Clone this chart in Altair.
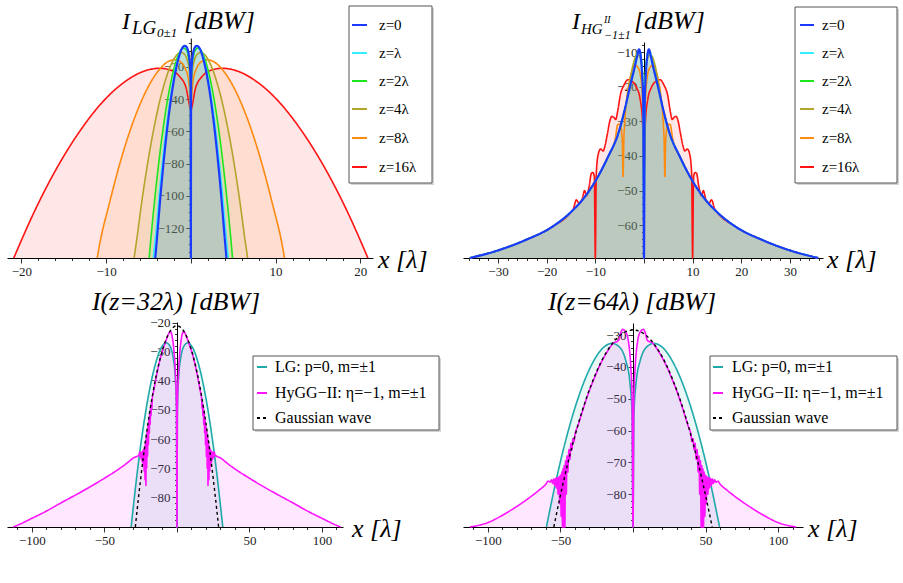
import altair as alt
import pandas as pd

FONT = "Liberation Serif"

# ---------------- Panel 1 : LG_{0,±1} profiles (x >= 0 half; profiles are even in x)
P1_SERIES = ["z=0", "z=λ", "z=2λ", "z=4λ", "z=8λ", "z=16λ"]
P1_COLORS = ["#1a3aff", "#33eeff", "#1ee61e", "#b3a42d", "#ff8a10", "#ff1414"]

lg_z0_x = [0, 0.03, 0.1, 0.25, 0.5, 0.71, 1.0, 1.5, 2.0, 2.5, 3.0, 3.5, 4.0, 4.2]
lg_z0_v = [-138.6, -29.9, -19.5, -12.0, -7.6, -6.8, -8.1, -15.5, -28.2, -45.8, -68.1, -95.0, -126.4, -138.6]
lg_z1_x = [0, 0.03, 0.105, 0.26, 0.52, 0.74, 1.05, 1.57, 2.1, 2.62, 3.15, 3.67, 4.2, 4.43]
lg_z1_v = [-138.6, -30.5, -19.9, -12.4, -8.0, -7.2, -8.5, -15.9, -28.6, -46.2, -68.5, -95.4, -126.8, -138.6]
lg_z2_x = [0, 0.036, 0.12, 0.3, 0.59, 0.84, 1.19, 1.78, 2.37, 2.97, 3.56, 4.15, 4.74, 4.92]
lg_z2_v = [-138.6, -31.4, -21.0, -13.5, -9.1, -8.3, -9.6, -17.0, -29.7, -47.3, -69.6, -96.5, -127.9, -138.6]
lg_z4_x = [0, 0.05, 0.16, 0.4, 0.81, 1.15, 1.62, 2.43, 3.24, 4.05, 4.86, 5.67, 6.48, 6.7]
lg_z4_v = [-110.0, -34.1, -23.7, -16.2, -11.8, -11.0, -12.3, -19.7, -32.4, -50.0, -72.3, -99.2, -130.6, -138.6]
lg_z8_x = [0, 0.08, 0.27, 0.68, 1.37, 1.93, 2.74, 4.1, 5.47, 6.84, 8.21, 9.57, 10.94, 11.05]
lg_z8_v = [-45.0, -38.6, -28.2, -20.7, -16.3, -15.5, -16.8, -24.2, -36.9, -54.5, -76.8, -103.7, -135.1, -138.6]
lg_z16_x = [0, 0.16, 0.53, 1.31, 2.63, 3.71, 5.25, 7.88, 10.5, 13.1, 15.75, 18.4, 20.9]
lg_z16_v = [-47.0, -43.9, -33.5, -26.0, -21.6, -20.8, -22.1, -29.5, -42.2, -59.8, -82.1, -109.0, -138.6]

# ---------------- Panel 2 : HyGG-II_{-1,±1} profiles (x >= 0 half)
hg_tail_x = [7.4, 9.5, 12.2, 15.0, 19.0, 24.5, 30.0, 35.8]
hg_tail_v = [-40.3, -46.1, -51.9, -56.2, -60.6, -64.4, -67.3, -69.5]
hg_z0_x = [0, 0.15, 0.4, 0.7, 1.0, 1.4, 1.9, 2.9, 4.0, 5.3] + hg_tail_x
hg_z0_v = [-69.5, -25.0, -16.0, -11.0, -9.2, -11.2, -14.3, -20.1, -26.9, -33.6] + hg_tail_v
hg_z1_x = [0, 0.15, 0.45, 0.8, 1.05, 1.5, 1.9, 2.9, 4.0, 5.3] + hg_tail_x
hg_z1_v = [-69.5, -24.0, -14.0, -10.0, -9.4, -11.5, -14.3, -20.1, -26.9, -33.6] + hg_tail_v
hg_z2_x = [0, 0.2, 0.5, 0.9, 1.2, 1.6, 2.0, 2.9, 4.0, 5.3] + hg_tail_x
hg_z2_v = [-60.0, -20.0, -12.5, -9.9, -9.8, -11.8, -14.5, -20.1, -26.9, -33.6] + hg_tail_v
hg_z4_x = [0, 0.3, 0.7, 1.2, 1.7, 2.3, 2.9, 3.5, 4.0, 5.3] + hg_tail_x
hg_z4_v = [-45.0, -18.0, -12.0, -10.8, -11.3, -14.0, -18.5, -23.5, -27.2, -33.7] + hg_tail_v
hg_z8_x = [0, 0.3, 0.7, 1.2, 1.8, 2.4, 3.0, 3.5, 3.9, 4.15, 4.3, 4.45, 4.7, 5.0, 5.4, 5.9, 6.4] + hg_tail_x
hg_z8_v = [-40.0, -24.0, -17.0, -14.5, -13.8, -15.0, -18.5, -23.0, -29.0, -36.0, -46.0, -36.0, -32.0,
           -30.8, -31.0, -35.0, -37.5] + hg_tail_v
hg_z16_x = [0, 0.3, 0.8, 1.5, 2.5, 3.3, 4.2, 4.8, 5.4, 5.8, 6.1, 6.6, 7.0, 7.5, 8.0, 8.4, 8.9, 9.4, 9.8,
            10.0, 10.2, 10.5, 10.8, 11.3, 11.8, 12.2, 12.7, 13.3, 13.9, 14.5] + hg_tail_x[3:]
hg_z16_v = [-45.0, -30.0, -23.5, -20.3, -18.4, -18.0, -19.8, -22.0, -27.0, -29.5, -29.0, -28.6, -29.8,
            -33.5, -37.0, -38.6, -38.0, -39.5, -45.0, -69.5, -46.0, -44.8, -45.0, -49.0, -51.5, -50.0,
            -52.5, -53.8, -52.7, -55.2] + hg_tail_v[3:]

# ---------------- Panels 3, 4 : comparison at z = 32λ and z = 64λ (x >= 0 half)
P3_SERIES = ["LG: p=0, m=±1", "HyGG−II: η=−1, m=±1", "Gaussian wave"]
P3_COLORS = ["#1fa9a9", "#ff14ff", "#000000"]

lg32_x = [0, 0.31, 1.04, 2.6, 5.2, 7.35, 10.4, 15.6, 20.8, 26.0, 31.6]
lg32_v = [-90.3, -50.0, -39.6, -32.1, -27.7, -26.9, -28.2, -35.6, -48.3, -65.9, -90.3]
gw32_x = [0, 2.5, 5, 7.5, 10, 12.5, 15, 17.5, 20, 22.5, 25, 27.5, 28.7]
gw32_v = [-21.0, -21.5, -23.1, -25.7, -29.4, -34.1, -39.9, -46.8, -54.6, -63.6, -73.6, -84.6, -90.3]
hy32_x = [0, 0.3, 1.0, 2.0, 3.0, 4.0, 4.6, 5.5, 7.0, 8.5, 10, 11.5, 13, 14.5, 16,
          17.0, 17.3, 17.6, 17.9, 18.2, 18.5, 18.8, 19.1, 19.4, 19.7, 20.0, 20.3, 20.6, 20.9, 21.2,
          21.4, 21.7, 22.0, 22.3, 22.6, 22.9, 23.2, 23.5, 23.8, 24.1, 24.5, 24.9, 25.3, 25.7, 26.2,
          30, 35, 40, 50, 60, 70, 80, 90, 100, 110, 113]
hy32_v = [-90.3, -50.0, -38.0, -30.0, -25.5, -23.3, -22.9, -23.5, -25.3, -27.5, -29.6, -32.3, -35.5,
          -39.2, -43.3,
          -46.0, -49.5, -47.5, -52.0, -49.0, -55.0, -51.0, -58.0, -53.0, -62.0, -55.5, -66.0, -57.5,
          -70.0, -59.5, -76.0, -61.0, -74.0, -62.5, -71.0, -63.5, -69.0, -64.0, -68.0, -64.5, -67.0,
          -64.5, -66.3, -64.5, -65.5,
          -66.5, -68.5, -70.3, -73.5, -76.5, -79.3, -82.0, -84.8, -87.3, -89.7, -90.3]

lg64_x = [0, 0.61, 2.04, 5.1, 10.2, 14.42, 20.4, 30.6, 40.8, 51.0, 59.7]
lg64_v = [-90.3, -55.7, -45.3, -37.8, -33.4, -32.6, -33.9, -41.3, -54.0, -71.6, -90.3]
gw64_x = [0, 5, 10, 15, 20, 25, 30, 35, 40, 45, 50, 54.6]
gw64_v = [-28.4, -28.9, -30.5, -33.1, -36.7, -41.4, -47.1, -53.8, -61.6, -70.4, -80.3, -90.3]
hy64_x = [0, 0.6, 1.5, 3, 5, 7.2, 8.5, 9.7, 11, 13, 15, 18, 21, 24, 27, 30, 33, 36, 38,
          40, 40.7, 41.4, 42.1, 42.8, 43.5, 44.2, 44.9, 45.5, 46.0, 46.5, 47.0, 47.4, 47.8, 48.2,
          48.6, 49.0, 49.5, 50.0, 50.5, 51.0, 51.6, 52.2, 52.8, 53.4, 54.0, 54.7, 55.4, 56.2, 57.2,
          58.5, 60, 65, 70, 80, 90, 100, 112.5]
hy64_v = [-90.3, -50.0, -40.0, -32.5, -29.0, -28.2, -29.3, -31.5, -32.0, -32.3, -33.3, -35.4, -37.8,
          -40.6, -43.9, -47.3, -51.3, -55.6, -58.5,
          -61.3, -63.5, -62.5, -66.0, -64.0, -69.0, -66.0, -73.0, -68.0, -80.0, -69.5, -90.3, -71.0,
          -90.3, -72.0, -90.3, -73.0, -87.0, -74.0, -83.0, -74.5, -80.0, -74.8, -78.0, -75.0, -77.2,
          -75.2, -76.6, -75.5, -76.2,
          -75.9, -76.8, -78.8, -80.6, -83.8, -86.6, -88.9, -90.3]

# tick values
P1_XTICKS = list(range(-20, 21, 2));   P1_YTICKS = list(range(-135, -4, 5))
P2_XTICKS = list(range(-36, 37, 2));   P2_YTICKS = list(range(-68, -7, 2))
P3_XTICKS = list(range(-110, 111, 10)); P3_YTICKS = list(range(-88, -19, 2))
P4_YTICKS = list(range(-88, -27, 2))

ONE = pd.DataFrame({"k": [0]})


def full_profile(name, xs, vs):
    xf = [-x for x in xs[:0:-1]] + list(xs)
    vf = list(vs[:0:-1]) + list(vs)
    return pd.DataFrame({"x": xf, "v": vf, "s": name})


def axis(ticks, step, offset, orient):
    return alt.Axis(
        values=ticks, orient=orient, offset=offset, grid=False, title=None,
        labelExpr=f"(datum.value % {step} === 0 && datum.value !== 0) ? datum.label : ''",
        tickSize={"condition": {"test": f"datum.value % {step} === 0", "value": 5}, "value": 2.5},
        domainColor="#000", tickColor="#000", domainWidth=1, tickWidth=0.8,
        labelFont=FONT, labelFontSize=13, labelColor="#222", labelPadding=2,
        labelOverlap=False, labelFlush=False, format="d")


def text(txt, x, y, size, style="italic", align="left", baseline="alphabetic"):
    return alt.Chart(ONE).mark_text(
        text=txt, font=FONT, fontSize=size, fontStyle=style, align=align,
        baseline=baseline, color="black").encode(x=alt.value(x), y=alt.value(y))


def legend_box(box, names, colors, dashes, sym, lab_x, rows, size):
    x0, y0, x1, y1 = box
    out = [alt.Chart(ONE).mark_rect(fill="#d4d4d4").encode(
               x=alt.value(x0 + 2), x2=alt.value(x1 + 2), y=alt.value(y0 + 2), y2=alt.value(y1 + 2)),
           alt.Chart(ONE).mark_rect(fill="white", stroke="#555", strokeWidth=1).encode(
               x=alt.value(x0), x2=alt.value(x1), y=alt.value(y0), y2=alt.value(y1))]
    for name, col, dash, yy in zip(names, colors, dashes, rows):
        out.append(alt.Chart(ONE).mark_rule(color=col, strokeWidth=1.8, strokeDash=dash).encode(
            x=alt.value(sym[0]), x2=alt.value(sym[1]), y=alt.value(yy)))
        out.append(text(name, lab_x, yy, size, style="normal", baseline="middle"))
    return out


def panel(curves, series, colors, dashes, widths, fill_names, xdom, xrng, ydom, yrng,
          xticks, xstep, yticks, ystep, x0px, vh, extra, vw):
    xs = alt.Scale(domain=xdom, range=xrng, nice=False, zero=False)
    ys = alt.Scale(domain=ydom, range=yrng, nice=False, zero=False)
    xa = axis(xticks, xstep, -(vh - yrng[0]), "bottom")
    ya = axis(yticks, ystep, -x0px, "left")
    cs = alt.Scale(domain=series, range=colors)
    ds = alt.Scale(domain=series, range=dashes)
    layers = []
    for name, df in curves:
        if name in fill_names:
            layers.append(alt.Chart(df).mark_area(interpolate="monotone", fillOpacity=0.1).encode(
                x=alt.X("x:Q", scale=xs, axis=xa), y=alt.Y("v:Q", scale=ys, axis=ya),
                y2=alt.datum(ydom[0]), fill=alt.Fill("s:N", scale=cs, legend=None)))
    for name, df in curves:
        layers.append(alt.Chart(df).mark_line(
            interpolate="monotone", strokeWidth=widths[series.index(name)]).encode(
            x=alt.X("x:Q", scale=xs, axis=xa), y=alt.Y("v:Q", scale=ys, axis=ya),
            color=alt.Color("s:N", scale=cs, legend=None),
            strokeDash=alt.StrokeDash("s:N", scale=ds, legend=None)))
    layers += extra
    return alt.layer(*layers).properties(width=vw, height=vh)


SOLID6 = [[1, 0]] * 6
ROWS1 = [25, 53, 81, 109, 138, 167]

# ----- panel 1
c1 = [("z=16λ", full_profile("z=16λ", lg_z16_x, lg_z16_v)),
      ("z=8λ", full_profile("z=8λ", lg_z8_x, lg_z8_v)),
      ("z=4λ", full_profile("z=4λ", lg_z4_x, lg_z4_v)),
      ("z=2λ", full_profile("z=2λ", lg_z2_x, lg_z2_v)),
      ("z=λ", full_profile("z=λ", lg_z1_x, lg_z1_v)),
      ("z=0", full_profile("z=0", lg_z0_x, lg_z0_v))]
W1 = [2.2, 1.6, 1.6, 1.6, 1.6, 1.6]
e1 = [text("I", 122, 29, 24), text("LG", 132, 34, 19), text("0±1", 157, 37, 13),
      text("[dBW]", 184, 29, 26), text("x [λ]", 378, 268, 26)]
e1 += legend_box((349, 6, 432, 183), P1_SERIES, P1_COLORS, SOLID6, (352, 367), 379, ROWS1, 15)
p1 = panel(c1, P1_SERIES, P1_COLORS, SOLID6, W1, P1_SERIES, [-21.7, 21.5], [7, 373],
           [-138.6, -2.0], [258, 38], P1_XTICKS, 10, P1_YTICKS, 20, 190.8, 280, e1, 450)

# ----- panel 2
c2 = [("z=16λ", full_profile("z=16λ", hg_z16_x, hg_z16_v)),
      ("z=8λ", full_profile("z=8λ", hg_z8_x, hg_z8_v)),
      ("z=4λ", full_profile("z=4λ", hg_z4_x, hg_z4_v)),
      ("z=2λ", full_profile("z=2λ", hg_z2_x, hg_z2_v)),
      ("z=λ", full_profile("z=λ", hg_z1_x, hg_z1_v)),
      ("z=0", full_profile("z=0", hg_z0_x, hg_z0_v))]
e2 = [text("I", 122, 29, 24), text("HG", 131, 34, 15), text("II", 154, 23, 10),
      text("−1±1", 154, 39, 12), text("[dBW]", 184, 29, 26), text("x [λ]", 377, 268, 26)]
e2 += legend_box((345, 7, 447, 183), P1_SERIES, P1_COLORS, SOLID6, (350, 364), 372, ROWS1, 15)
p2 = panel(c2, P1_SERIES, P1_COLORS, SOLID6, W1, P1_SERIES, [-37.2, 36.8], [13, 373],
           [-69.5, -7.1], [258, 42], P2_XTICKS, 10, P2_YTICKS, 10, 194, 280, e2, 453)

# ----- panel 3
DASH = [[1, 0], [1, 0], [3, 3]]
W3 = [1.6, 1.6, 1.4]
ROWS3 = [87, 113, 138]
c3 = [(P3_SERIES[0], full_profile(P3_SERIES[0], lg32_x, lg32_v)),
      (P3_SERIES[1], full_profile(P3_SERIES[1], hy32_x, hy32_v)),
      (P3_SERIES[2], full_profile(P3_SERIES[2], gw32_x, gw32_v))]
e3 = [text("I(z=32λ) [dBW]", 176, 30, 26, align="center"), text("x [λ]", 352, 257, 26)]
e3 += legend_box((253, 76, 439, 150), P3_SERIES, P3_COLORS, DASH, (257, 267), 275, ROWS3, 16)
p3 = panel(c3, P3_SERIES, P3_COLORS, DASH, W3, P3_SERIES[:2], [-117.2, 114.5], [7, 343],
           [-90.3, -19.7], [247, 42], P3_XTICKS, 50, P3_YTICKS, 10, 177, 303, e3, 450)

# ----- panel 4
c4 = [(P3_SERIES[0], full_profile(P3_SERIES[0], lg64_x, lg64_v)),
      (P3_SERIES[1], full_profile(P3_SERIES[1], hy64_x, hy64_v)),
      (P3_SERIES[2], full_profile(P3_SERIES[2], gw64_x, gw64_v))]
e4 = [text("I(z=64λ) [dBW]", 182, 30, 26, align="center"), text("x [λ]", 358, 257, 26)]
e4 += legend_box((260, 76, 447, 150), P3_SERIES, P3_COLORS, DASH, (263, 273), 282, ROWS3, 16)
p4 = panel(c4, P3_SERIES, P3_COLORS, DASH, W3, P3_SERIES[:2], [-117.2, 117.2], [13, 353],
           [-90.3, -26.2], [247, 43], P3_XTICKS, 50, P4_YTICKS, 10, 183, 303, e4, 453)

chart = alt.concat(p1, p2, p3, p4, columns=2, spacing=0, bounds="flush").resolve_scale(
    color="independent", fill="independent", strokeDash="independent",
    x="independent", y="independent"
).configure_view(stroke=None).properties(padding=0, background="white")

chart.save("out.html", embed_options={"renderer": "svg", "actions": False})
